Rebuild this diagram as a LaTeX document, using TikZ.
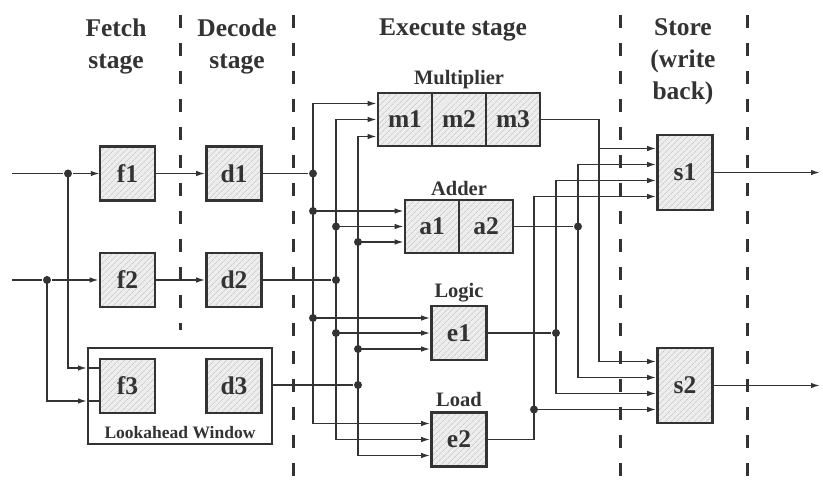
\documentclass[tikz,border=0pt]{standalone}
\usepackage{fontspec}
\setmainfont{Liberation Serif}
\usetikzlibrary{arrows.meta,patterns.meta,calc}
\definecolor{ink}{HTML}{333333}
\definecolor{boxfill}{HTML}{EDEDED}
\definecolor{hatch}{HTML}{BDBDBD}
\begin{document}
\begin{tikzpicture}[x=1pt,y=-1pt,color=ink,line width=1.5pt,
  >={Latex[length=9pt,width=5.5pt]},
  unit/.style={draw=ink, line width=2.6pt, inner sep=0pt, minimum width=55pt, minimum height=54pt,
    preaction={fill=boxfill}, pattern={Lines[angle=45,distance=4pt,line width=0.5pt]}, pattern color=hatch,
    font=\fontsize{25.5}{28}\selectfont\bfseries},
  tallunit/.style={unit, minimum height=75pt},
  heading/.style={font=\fontsize{25.5}{32}\selectfont\bfseries, align=center},
  unitlabel/.style={font=\fontsize{20.5}{22}\selectfont\bfseries},
  stagesep/.style={line width=3pt, dash pattern=on 13pt off 15pt},
  dot/.style={circle, fill=ink, inner sep=0pt, minimum size=8pt}]
\useasboundingbox (0,0) rectangle (823,489);

% stage separators
\draw[stagesep] (180,15) -- (180,330);
\draw[stagesep] (293,15) -- (293,489);
\draw[stagesep] (620,15) -- (620,489);
\draw[stagesep] (747,15) -- (747,489);

% headings
\node[heading] (hfetch) at (116,46) {Fetch\\stage};
\node[heading] (hdecode) at (237,46) {Decode\\stage};
\node[heading] (hexec) at (453,30) {Execute stage};
\node[heading] (hstore) at (683,62) {Store\\(write\\back)};

% lookahead window
\node[draw=ink, line width=2pt, fill=white, minimum width=184pt, minimum height=96pt, inner sep=0pt] (la) at (180,396) {};
\node[font=\fontsize{17.5}{18}\selectfont\bfseries] (lalabel) at (180,433) {Lookahead Window};

% fetch / decode units
\node[unit] (f1) at (127.5,173.5) {f1};
\node[unit] (d1) at (234,173.5) {d1};
\node[unit] (f2) at (127.5,280) {f2};
\node[unit] (d2) at (234,280) {d2};
\node[unit] (f3) at (127.5,386) {f3};
\node[unit] (d3) at (234,386) {d3};

% execute units
\node[unit, minimum width=54pt, minimum height=53pt] (m1) at (405,119.5) {m1};
\node[unit, minimum width=54pt, minimum height=53pt] (m2) at (459,119.5) {m2};
\node[unit, minimum width=54pt, minimum height=53pt] (m3) at (513,119.5) {m3};
\node[unitlabel] (lmul) at (459,80) {Multiplier};
\node[unit, minimum width=54pt, minimum height=53pt] (a1) at (432,226.5) {a1};
\node[unit, minimum width=54pt, minimum height=53pt] (a2) at (486,226.5) {a2};
\node[unitlabel] (ladd) at (459,188) {Adder};
\node[unit] (e1) at (459,333) {e1};
\node[unitlabel] (llog) at (459,293) {Logic};
\node[unit] (e2) at (459,439.5) {e2};
\node[unitlabel] (lload) at (459,399) {Load};

% store units
\node[tallunit] (s1) at (685,172.5) {s1};
\node[tallunit] (s2) at (685,385.5) {s2};

% inputs
\coordinate (in1) at (12,173.5);
\coordinate (in2) at (12,280);
\node[dot] (j1) at (68,173.5) {};
\node[dot] (j2) at (47,280) {};
\coordinate (f3a) at ($(f3.west)+(0,-18)$);
\coordinate (f3b) at ($(f3.west)+(0,15)$);
\draw (in1) -- (j1);
\draw[->] (j1) -- (f1);
\draw (in2) -- (j2);
\draw[->] (j2) -- (f2);
\draw[->] (j1.center) |- (la.west |- f3a);
\draw (la.west |- f3a) -- (f3a);
\draw[->] (j2.center) |- (la.west |- f3b);
\draw (la.west |- f3b) -- (f3b);

\draw[->] (f1) -- (d1);
\draw[->] (f2) -- (d2);

% decode -> execute buses
\node[dot] (p1) at (313,173.5) {};
\node[dot] (p2) at (313,211) {};
\node[dot] (p3) at (313,318) {};
\node[dot] (q1) at (336,280) {};
\node[dot] (q2) at (336,226.5) {};
\node[dot] (q3) at (336,333) {};
\node[dot] (r1) at (358,385) {};
\node[dot] (r2) at (358,242) {};
\node[dot] (r3) at (358,349) {};

\draw (d1) -- (p1);
\draw (d2) -- (q1);
\draw (la.east |- r1) -- (r1);

\draw[->] (p1.center) |- ([yshift=16pt]m1.west);
\draw[->] (p1.center) |- ([yshift=16pt]e2.west);
\draw[->] (p2.center) -- (p2 -| a1.west);
\draw[->] (p3.center) -- (p3 -| e1.west);

\draw[->] (q1.center) |- (m1.west);
\draw[->] (q1.center) |- (e2.west);
\draw[->] (q2.center) -- (q2 -| a1.west);
\draw[->] (q3.center) -- (q3 -| e1.west);

\draw[->] (r1.center) |- ([yshift=-17pt]m1.west);
\draw[->] (r1.center) |- ([yshift=-16pt]e2.west);
\draw[->] (r2.center) -- (r2 -| a1.west);
\draw[->] (r3.center) -- (r3 -| e1.west);

% execute -> store
\coordinate (mc) at (599,119.5);
\coordinate (mt) at (599,148.5);
\node[dot] (u1) at (578,226.5) {};
\node[dot] (v1) at (556,333) {};
\node[dot] (w1) at (534,409.5) {};

\draw[->] (m3.east) -- (mc) |- ([yshift=24pt]s2.west);
\draw[->] (mt) -- (mt -| s1.west);

\draw (a2) -- (u1);
\draw[->] (u1.center) |- ([yshift=8pt]s1.west);
\draw[->] (u1.center) |- ([yshift=8pt]s2.west);

\draw (e1) -- (v1);
\draw[->] (v1.center) |- ([yshift=-8pt]s1.west);
\draw[->] (v1.center) |- ([yshift=-8pt]s2.west);

\draw (e2.east) -| (w1.center);
\draw[->] (w1.center) |- ([yshift=-24pt]s1.west);
\draw[->] (w1.center) -- (w1 -| s2.west);

% outputs
\coordinate (out1) at (820,172.5);
\coordinate (out2) at (820,385.5);
\draw[->] (s1) -- (out1);
\draw[->] (s2) -- (out2);
\end{tikzpicture}
\end{document}
